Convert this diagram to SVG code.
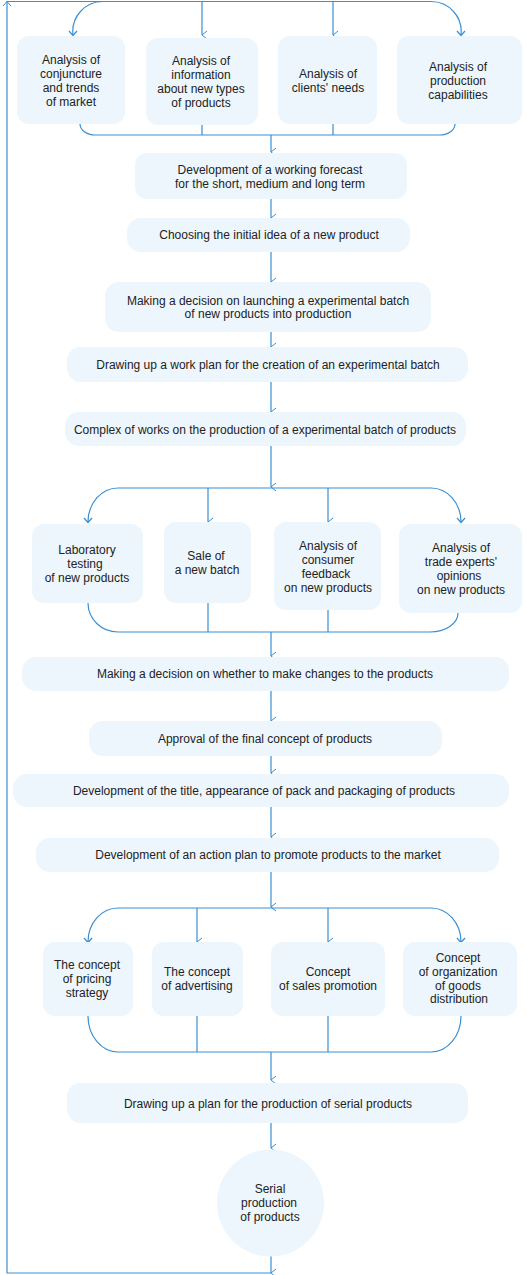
<svg xmlns="http://www.w3.org/2000/svg" width="527" height="1275" viewBox="0 0 527 1275">
<defs>
<marker id="arr" viewBox="0 0 10 10" refX="5" refY="9" markerWidth="10" markerHeight="10" markerUnits="userSpaceOnUse" orient="auto-start-reverse">
<path d="M1,4 L5,9 L9,4" fill="none" stroke="#3a8fd3" stroke-width="1"/>
</marker>
<style>
.n{fill:#edf6fd;stroke:none}
.c{fill:none;stroke:#3a8fd3;stroke-width:1.2}
.t{font-family:"Liberation Sans",Arial,sans-serif;font-size:12px;fill:#222;text-anchor:middle}
</style>
</defs>
<rect width="527" height="1275" fill="#fff"/>
<g id="connectors">
<path class="c" d="M271,1273 L7,1273 L7,1"/>
<path class="c" d="M7,1.5 L172,1.5"/>
<path d="M3,6 L7,1.5 L11,6" fill="none" stroke="#3a8fd3" stroke-width="1"/>
<path class="c" d="M73,35 A30,30 0 0 1 103,1.5 L431,1.5 A30,30 0 0 1 461,35" />
<path class="c" d="M69,31 L73,35.5 L77,31 M457,31 L461,35.5 L465,31"/>
<path class="c" d="M202,1.5 L202,35" marker-end="url(#arr)"/>
<path class="c" d="M333,1.5 L333,35" marker-end="url(#arr)"/>
<path class="c" d="M80,124 A15,11 0 0 0 95,135 L440,135 A15,11 0 0 0 455,124"/>
<path class="c" d="M202,125 L202,135 M333,124 L333,135"/>
<path class="c" d="M271,135 L271,152" marker-end="url(#arr)"/>
<path class="c" d="M271,199 L271,218" marker-end="url(#arr)"/>
<path class="c" d="M271,252 L271,282" marker-end="url(#arr)"/>
<path class="c" d="M271,332 L271,347" marker-end="url(#arr)"/>
<path class="c" d="M271,382 L271,412" marker-end="url(#arr)"/>
<path class="c" d="M271,446 L271,487" marker-end="url(#arr)"/>
<path class="c" d="M88,522 A30,34 0 0 1 118,488 L431,488 A30,34 0 0 1 461,522"/>
<path class="c" d="M84,518 L88,522.5 L92,518 M457,518 L461,522.5 L465,518"/>
<path class="c" d="M208,488 L208,522" marker-end="url(#arr)"/>
<path class="c" d="M328,488 L328,522" marker-end="url(#arr)"/>
<path class="c" d="M88,603 A30,29 0 0 0 118,632 L430,632 A28,19 0 0 0 458,613"/>
<path class="c" d="M208,603 L208,632 M328,610 L328,632"/>
<path class="c" d="M271,632 L271,656" marker-end="url(#arr)"/>
<path class="c" d="M271,691 L271,721" marker-end="url(#arr)"/>
<path class="c" d="M271,756 L271,773" marker-end="url(#arr)"/>
<path class="c" d="M271,807 L271,837" marker-end="url(#arr)"/>
<path class="c" d="M271,872 L271,907" marker-end="url(#arr)"/>
<path class="c" d="M88,942 A30,34 0 0 1 118,908 L431,908 A30,34 0 0 1 461,942"/>
<path class="c" d="M84,938 L88,942.5 L92,938 M457,938 L461,942.5 L465,938"/>
<path class="c" d="M197,908 L197,942" marker-end="url(#arr)"/>
<path class="c" d="M328,908 L328,942" marker-end="url(#arr)"/>
<path class="c" d="M88,1016 A30,36 0 0 0 118,1052 L431,1052 A30,36 0 0 0 461,1016"/>
<path class="c" d="M197,1016 L197,1052 M328,1016 L328,1052"/>
<path class="c" d="M271,1052 L271,1080" marker-end="url(#arr)"/>
<path class="c" d="M271,1123 L271,1148" marker-end="url(#arr)"/>
<path class="c" d="M271,1256 L271,1273" marker-end="url(#arr)"/>
</g>

<g id="n1"><rect class="n" x="17" y="36" width="108" height="88" rx="12"/>
<text class="t"><tspan x="71" y="64">Analysis of</tspan><tspan x="71" y="78">conjuncture</tspan><tspan x="71" y="92">and trends</tspan><tspan x="71" y="106">of market</tspan></text></g>
<g id="n2"><rect class="n" x="146" y="38" width="112" height="87" rx="12"/>
<text class="t"><tspan x="201" y="65">Analysis of</tspan><tspan x="201" y="79">information</tspan><tspan x="201" y="93">about new types</tspan><tspan x="201" y="107">of products</tspan></text></g>
<g id="n3"><rect class="n" x="278" y="36" width="99" height="88" rx="12"/>
<text class="t"><tspan x="328" y="78">Analysis of</tspan><tspan x="328" y="92">clients' needs</tspan></text></g>
<g id="n4"><rect class="n" x="397" y="36" width="125" height="88" rx="12"/>
<text class="t"><tspan x="458" y="71">Analysis of</tspan><tspan x="458" y="85">production</tspan><tspan x="458" y="99">capabilities</tspan></text></g>

<g id="n5"><rect class="n" x="135" y="153" width="272" height="46" rx="12"/>
<text class="t"><tspan x="270" y="174">Development of a working forecast</tspan><tspan x="270" y="188">for the short, medium and long term</tspan></text></g>
<g id="n6"><rect class="n" x="127" y="218" width="283" height="34" rx="14"/>
<text class="t" x="269" y="239">Choosing the initial idea of a new product</text></g>
<g id="n7"><rect class="n" x="105" y="282" width="326" height="50" rx="14"/>
<text class="t"><tspan x="268" y="305">Making a decision on launching a experimental batch</tspan><tspan x="268" y="318">of new products into production</tspan></text></g>
<g id="n8"><rect class="n" x="67" y="347" width="401" height="35" rx="14"/>
<text class="t" x="268" y="369">Drawing up a work plan for the creation of an experimental batch</text></g>
<g id="n9"><rect class="n" x="65" y="412" width="401" height="34" rx="14"/>
<text class="t" x="265" y="434">Complex of works on the production of a experimental batch of products</text></g>

<g id="n10"><rect class="n" x="32" y="524" width="111" height="79" rx="12"/>
<text class="t"><tspan x="87" y="554">Laboratory</tspan><tspan x="85" y="568">testing</tspan><tspan x="87" y="582">of new products</tspan></text></g>
<g id="n11"><rect class="n" x="164" y="522" width="87" height="81" rx="12"/>
<text class="t"><tspan x="206" y="560">Sale of</tspan><tspan x="207" y="574">a new batch</tspan></text></g>
<g id="n12"><rect class="n" x="274" y="522" width="107" height="88" rx="12"/>
<text class="t"><tspan x="328" y="550">Analysis of</tspan><tspan x="328" y="564">consumer</tspan><tspan x="326" y="578">feedback</tspan><tspan x="328" y="592">on new products</tspan></text></g>
<g id="n13"><rect class="n" x="399" y="524" width="123" height="89" rx="12"/>
<text class="t"><tspan x="461" y="552">Analysis of</tspan><tspan x="461" y="566">trade experts'</tspan><tspan x="459" y="580">opinions</tspan><tspan x="461" y="594">on new products</tspan></text></g>

<g id="n14"><rect class="n" x="22" y="657" width="487" height="34" rx="14"/>
<text class="t" x="265" y="678">Making a decision on whether to make changes to the products</text></g>
<g id="n15"><rect class="n" x="89" y="721" width="353" height="35" rx="14"/>
<text class="t" x="265" y="743">Approval of the final concept of products</text></g>
<g id="n16"><rect class="n" x="13" y="774" width="496" height="33" rx="14"/>
<text class="t" x="264" y="795">Development of the title, appearance of pack and packaging of products</text></g>
<g id="n17"><rect class="n" x="36" y="838" width="463" height="34" rx="14"/>
<text class="t" x="268" y="859">Development of an action plan to promote products to the market</text></g>

<g id="n18"><rect class="n" x="43" y="942" width="90" height="74" rx="12"/>
<text class="t"><tspan x="87" y="969">The concept</tspan><tspan x="87" y="983">of pricing</tspan><tspan x="87" y="997">strategy</tspan></text></g>
<g id="n19"><rect class="n" x="152" y="942" width="91" height="74" rx="12"/>
<text class="t"><tspan x="197" y="976">The concept</tspan><tspan x="197" y="990">of advertising</tspan></text></g>
<g id="n20"><rect class="n" x="271" y="942" width="114" height="74" rx="12"/>
<text class="t"><tspan x="328" y="976">Concept</tspan><tspan x="328" y="990">of sales promotion</tspan></text></g>
<g id="n21"><rect class="n" x="403" y="942" width="114" height="74" rx="12"/>
<text class="t"><tspan x="458" y="962">Concept</tspan><tspan x="458" y="976">of organization</tspan><tspan x="458" y="990">of goods</tspan><tspan x="459" y="1003">distribution</tspan></text></g>

<g id="n22"><rect class="n" x="67" y="1083" width="401" height="40" rx="14"/>
<text class="t" x="268" y="1108">Drawing up a plan for the production of serial products</text></g>
<g id="n23"><circle class="n" cx="270.5" cy="1203" r="53.5"/>
<text class="t"><tspan x="270" y="1193">Serial</tspan><tspan x="269" y="1207">production</tspan><tspan x="270" y="1221">of products</tspan></text></g>
</svg>
